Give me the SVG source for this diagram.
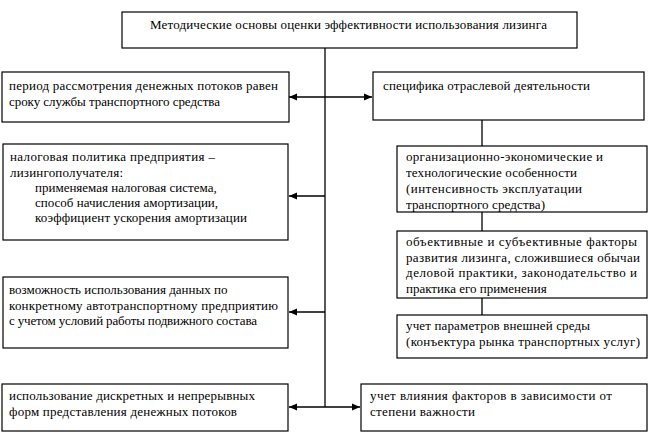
<svg xmlns="http://www.w3.org/2000/svg" width="650" height="433" viewBox="0 0 650 433" font-family="'Liberation Serif', 'DejaVu Serif', serif">
<defs>
<style>
.box{fill:#fff;stroke:#000;stroke-width:1.2}
.t{font-family:'Liberation Serif', 'DejaVu Serif', serif;font-size:13px;fill:#000}
.c{fill:none;stroke:#000;stroke-width:1.3}
</style>
<marker id="ah" viewBox="0 0 8 8" refX="8" refY="4" markerWidth="8" markerHeight="8" markerUnits="userSpaceOnUse" orient="auto-start-reverse">
<path d="M0,0.5 L8,4 L0,7.5 Z" fill="#000"/>
</marker>
</defs>
<rect width="650" height="433" fill="#fff"/>

<g id="connectors">
<line class="c" x1="325" y1="48" x2="325" y2="407"/>
<line class="c" x1="289" y1="97" x2="372" y2="97" marker-start="url(#ah)" marker-end="url(#ah)"/>
<line class="c" x1="325" y1="196" x2="289" y2="196" marker-end="url(#ah)"/>
<line class="c" x1="325" y1="312" x2="289" y2="312" marker-end="url(#ah)"/>
<line class="c" x1="289" y1="407" x2="360" y2="407" marker-start="url(#ah)" marker-end="url(#ah)"/>
<line class="c" x1="482" y1="120" x2="482" y2="146"/>
<line class="c" x1="482" y1="212" x2="482" y2="231"/>
<line class="c" x1="482" y1="298" x2="482" y2="315"/>
</g>

<g id="title">
<rect class="box" x="122" y="12" width="455" height="36"/>
<text class="t" x="150" y="29" textLength="397" lengthAdjust="spacing">Методические основы оценки эффективности использования лизинга</text>
</g>

<g id="period">
<rect class="box" x="2" y="72" width="287" height="50"/>
<text class="t" x="9" y="90" textLength="269" lengthAdjust="spacing">период рассмотрения денежных потоков равен</text>
<text class="t" x="9" y="106" textLength="211" lengthAdjust="spacing">сроку службы транспортного средства</text>
</g>

<g id="specifics">
<rect class="box" x="373" y="72" width="271" height="48"/>
<text class="t" x="383" y="90" textLength="207" lengthAdjust="spacing">специфика отраслевой деятельности</text>
</g>

<g id="tax">
<rect class="box" x="3" y="144" width="285" height="96"/>
<text class="t" x="10" y="161" textLength="205" lengthAdjust="spacing">налоговая политика предприятия –</text>
<text class="t" x="10" y="177" textLength="113" lengthAdjust="spacing">лизингополучателя:</text>
<text class="t" x="35" y="192">применяемая налоговая система,</text>
<text class="t" x="35" y="207">способ начисления амортизации,</text>
<text class="t" x="35" y="222" textLength="212" lengthAdjust="spacing">коэффициент ускорения амортизации</text>
</g>

<g id="org">
<rect class="box" x="397" y="146" width="250" height="66"/>
<text class="t" x="406" y="161" textLength="197" lengthAdjust="spacing">организационно-экономические и</text>
<text class="t" x="406" y="177" textLength="171" lengthAdjust="spacing">технологические особенности</text>
<text class="t" x="406" y="193" textLength="176" lengthAdjust="spacing">(интенсивность эксплуатации</text>
<text class="t" x="406" y="209" textLength="139" lengthAdjust="spacing">транспортного средства)</text>
</g>

<g id="factors">
<rect class="box" x="397" y="231" width="250" height="67"/>
<text class="t" x="406" y="246" textLength="231" lengthAdjust="spacing">объективные и субъективные факторы</text>
<text class="t" x="406" y="262" textLength="234" lengthAdjust="spacing">развития лизинга, сложившиеся обычаи</text>
<text class="t" x="406" y="277" textLength="231" lengthAdjust="spacing">деловой практики, законодательство и</text>
<text class="t" x="406" y="293">практика его применения</text>
</g>

<g id="environment">
<rect class="box" x="397" y="315" width="250" height="43"/>
<text class="t" x="406" y="330" textLength="184" lengthAdjust="spacing">учет параметров внешней среды</text>
<text class="t" x="406" y="346" textLength="234" lengthAdjust="spacing">(конъектура рынка транспортных услуг)</text>
</g>

<g id="data">
<rect class="box" x="3" y="277" width="285" height="71"/>
<text class="t" x="9" y="294">возможность использования данных по</text>
<text class="t" x="9" y="310" textLength="269" lengthAdjust="spacing">конкретному автотранспортному предприятию</text>
<text class="t" x="9" y="325" textLength="248" lengthAdjust="spacing">с учетом условий работы подвижного состава</text>
</g>

<g id="forms">
<rect class="box" x="2" y="384" width="286" height="47"/>
<text class="t" x="9" y="400" textLength="246" lengthAdjust="spacing">использование дискретных и непрерывных</text>
<text class="t" x="9" y="416" textLength="228" lengthAdjust="spacing">форм представления денежных потоков</text>
</g>

<g id="influence">
<rect class="box" x="361" y="384" width="286" height="47"/>
<text class="t" x="370" y="400" textLength="242" lengthAdjust="spacing">учет влияния факторов в зависимости от</text>
<text class="t" x="370" y="416" textLength="105" lengthAdjust="spacing">степени важности</text>
</g>
</svg>
